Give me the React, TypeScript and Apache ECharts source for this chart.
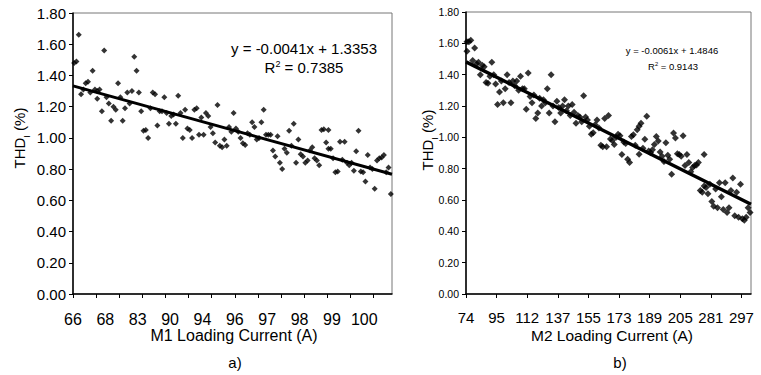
import React, { useEffect, useRef } from 'react';
import * as echarts from 'echarts';

// ---------- data ----------
const Y_MIN = 0;
const Y_MAX = 1.8;
const Y_STEP = 0.2;

// Chart a) : M1
const M1_LABELS = ['66', '68', '83', '90', '94', '96', '97', '98', '99', '100'];
const M1_COUNT = 138;
const M1_LABEL_STEP = 14;
const M1_TICK_STEP = 10;
const M1_SLOPE = -0.0041;
const M1_INTERCEPT = 1.3353;
const M1_EQ = 'y = -0.0041x + 1.3353';
const M1_R2 = '0.7385';
// [sample index, THD_I %]
const M1_POINTS: [number, number][] = [
  [0, 1.48], [1, 1.49], [2, 1.66], [3, 1.28], [4, 1.31], [5, 1.35], [6, 1.36], [7, 1.29], [8, 1.43], [9, 1.31],
  [10, 1.30], [10, 1.25], [11, 1.31], [12, 1.17], [13, 1.56], [14, 1.26], [15, 1.22], [16, 1.11], [17, 1.20], [18, 1.18],
  [19, 1.35], [20, 1.26], [21, 1.11], [22, 1.19], [23, 1.29], [24, 1.22], [25, 1.30], [26, 1.52], [27, 1.43], [28, 1.29],
  [29, 1.17], [30, 1.045], [31, 1.05], [32, 1.00], [33, 1.19], [34, 1.29], [35, 1.28], [36, 1.08], [37, 1.17], [38, 1.17],
  [39, 1.26], [40, 1.16], [41, 1.09], [42, 1.14], [43, 1.15], [44, 1.09], [45, 1.27], [46, 1.16], [47, 1.00], [48, 1.18],
  [49, 1.06], [50, 1.05], [51, 1.00], [52, 1.18], [53, 1.19], [54, 1.02], [55, 1.13], [56, 1.02], [57, 1.16], [58, 1.14],
  [59, 1.07], [60, 1.03], [61, 0.97], [62, 1.21], [63, 0.95], [64, 0.94], [65, 0.99], [66, 0.95], [67, 1.07], [68, 1.04],
  [69, 1.16], [70, 1.06], [71, 1.04], [72, 1.00], [73, 0.965], [74, 0.955], [75, 1.03], [76, 1.02], [77, 1.10], [78, 1.07],
  [79, 0.99], [80, 1.00], [81, 1.10], [82, 1.18], [83, 1.02], [84, 1.02], [85, 1.02], [86, 0.92], [87, 0.88], [88, 1.01],
  [89, 0.84], [90, 0.80], [91, 0.93], [92, 0.905], [93, 1.045], [94, 0.95], [95, 1.09], [96, 0.84], [97, 0.99], [98, 0.895],
  [99, 0.88], [100, 0.84], [101, 0.855], [102, 0.92], [103, 0.94], [104, 0.87], [105, 0.855], [106, 0.825], [107, 1.05], [108, 1.055],
  [109, 0.97], [110, 0.93], [110, 1.05], [111, 0.93], [112, 0.87], [113, 0.78], [114, 0.785], [115, 0.975], [116, 0.86], [117, 0.975],
  [118, 0.84], [119, 0.825], [120, 0.84], [121, 0.79], [122, 0.915], [123, 1.045], [124, 0.785], [125, 0.78], [126, 0.72], [127, 0.89],
  [128, 0.81], [129, 0.80], [130, 0.675], [131, 0.855], [132, 0.87], [133, 0.875], [134, 0.89], [135, 0.78], [136, 0.81], [137, 0.64],
];

// Chart b) : M2
const M2_LABELS = ['74', '95', '112', '137', '155', '173', '189', '205', '281', '297'];
const M2_COUNT = 149;
const M2_LABEL_STEP = 16;
const M2_TICK_STEP = 16;
const M2_SLOPE = -0.0061;
const M2_INTERCEPT = 1.4846;
const M2_EQ = 'y = -0.0061x + 1.4846';
const M2_R2 = '0.9143';
const M2_POINTS: [number, number][] = [
  [0, 1.55], [0, 1.61], [1, 1.61], [2, 1.62], [3, 1.49], [4, 1.57], [5, 1.47], [6, 1.48], [7, 1.40], [8, 1.46],
  [9, 1.45], [10, 1.35], [11, 1.345], [12, 1.39], [13, 1.48], [14, 1.40], [15, 1.34], [16, 1.21], [17, 1.29], [18, 1.36],
  [19, 1.22], [20, 1.31], [21, 1.40], [22, 1.35], [23, 1.22], [24, 1.36], [25, 1.33], [26, 1.36], [27, 1.30], [28, 1.39],
  [29, 1.31], [30, 1.31], [31, 1.18], [32, 1.41], [33, 1.26], [34, 1.22], [35, 1.27], [36, 1.12], [37, 1.155], [38, 1.25],
  [39, 1.20], [40, 1.24], [41, 1.22], [42, 1.31], [43, 1.155], [44, 1.40], [45, 1.20], [46, 1.10], [47, 1.23], [48, 1.19],
  [49, 1.155], [50, 1.20], [51, 1.24], [52, 1.17], [53, 1.20], [54, 1.14], [55, 1.21], [56, 1.16], [57, 1.09], [58, 1.14],
  [59, 1.13], [60, 1.10], [61, 1.265], [62, 1.13], [63, 1.11], [64, 1.07], [65, 1.02], [66, 1.03], [67, 1.08], [68, 1.11],
  [69, 1.06], [70, 0.95], [71, 0.94], [72, 1.12], [73, 0.94], [74, 1.14], [75, 0.99], [76, 0.98], [77, 0.955], [78, 1.00],
  [79, 1.02], [80, 1.01], [81, 0.89], [82, 0.97], [83, 0.96], [84, 0.86], [85, 0.84], [86, 1.006], [87, 1.017], [88, 0.95],
  [89, 1.048], [90, 1.07], [90, 0.892], [91, 1.09], [92, 0.93], [93, 0.988], [94, 1.134], [95, 0.913], [96, 0.902], [97, 0.92],
  [98, 0.955], [99, 1.006], [100, 0.976], [101, 0.906], [102, 0.88], [103, 0.845], [104, 0.965], [105, 0.885], [106, 0.86], [107, 0.765],
  [108, 1.027], [109, 0.996], [110, 0.896], [111, 0.89], [112, 0.88], [113, 1.01], [114, 0.82], [115, 0.89], [116, 0.84], [117, 0.78],
  [118, 0.808], [119, 0.82], [120, 0.823], [121, 0.84], [122, 0.66], [123, 0.65], [124, 0.89], [124, 0.69], [125, 0.68], [126, 0.64],
  [127, 0.70], [128, 0.59], [129, 0.56], [130, 0.67], [131, 0.55], [132, 0.71], [133, 0.62], [134, 0.54], [135, 0.71], [136, 0.52],
  [137, 0.55], [138, 0.66], [139, 0.74], [140, 0.50], [141, 0.65], [142, 0.49], [143, 0.70], [144, 0.48], [145, 0.47], [146, 0.49],
  [147, 0.55], [148, 0.52],
];

// ---------- chart ----------
const FONT = '"Liberation Sans", Arial, sans-serif';

function xAxisFor(gridIndex: number, count: number, labels: string[], labelStep: number, tickStep: number, fontSize: number, margin: number) {
  const labelValues = labels.map((_, k) => k * labelStep);
  const tickValues: number[] = [];
  for (let v = 0; v <= count; v += tickStep) tickValues.push(v);
  return {
    type: 'value',
    gridIndex,
    min: 0,
    max: count,
    axisLine: { show: true, onZero: false, lineStyle: { color: '#000', width: 1.5 } },
    axisTick: { show: true, customValues: tickValues, length: 4, inside: false, lineStyle: { color: '#000', width: 1 } },
    axisLabel: {
      customValues: labelValues,
      formatter: (v: number) => labels[Math.round(v / labelStep)] ?? '',
      color: '#000',
      fontSize,
      fontFamily: FONT,
      margin,
    },
    splitLine: { show: false },
  };
}

function yAxisFor(gridIndex: number, fontSize: number) {
  return {
    type: 'value',
    gridIndex,
    min: Y_MIN,
    max: Y_MAX,
    interval: Y_STEP,
    axisLine: { show: true, onZero: false, lineStyle: { color: '#000', width: 1.5 } },
    axisTick: { show: true, length: 4, lineStyle: { color: '#000', width: 1 } },
    axisLabel: { formatter: (v: number) => v.toFixed(2), color: '#000', fontSize, fontFamily: FONT, margin: 7 },
    splitLine: { show: false },
  };
}

function trend(count: number, slope: number, intercept: number) {
  // Excel trendline: x = sample number (1-based), drawn across the plot area
  return [0, count].map((p) => [p, slope * (p + 0.5) + intercept]);
}

function yTitle(x: number, y: number, size: number) {
  return {
    type: 'text',
    x,
    y,
    rotation: Math.PI / 2,
    style: {
      text: '{a|THD}{b|I}{a| (%)}',
      align: 'center',
      verticalAlign: 'middle',
      rich: {
        a: { fontSize: size, fontFamily: FONT, fill: '#000', lineHeight: size + 4 },
        b: { fontSize: size * 0.62, fontFamily: FONT, fill: '#000', verticalAlign: 'bottom', padding: [0, 0, -3, 0] },
      },
    },
  };
}

function textAt(text: string, x: number, y: number, size: number) {
  return {
    type: 'text',
    x,
    y,
    style: { text, fontSize: size, fontFamily: FONT, fill: '#000', align: 'center', verticalAlign: 'middle' },
  };
}

function r2Text(value: string, x: number, y: number, size: number) {
  return {
    type: 'text',
    x,
    y,
    style: {
      text: '{a|R}{s|2}{a| = ' + value + '}',
      align: 'center',
      verticalAlign: 'middle',
      rich: {
        a: { fontSize: size, fontFamily: FONT, fill: '#000' },
        s: { fontSize: size * 0.6, fontFamily: FONT, fill: '#000', verticalAlign: 'top', padding: [0, 0, 4, 0] },
      },
    },
  };
}

export default function App() {
  const ref = useRef<HTMLDivElement>(null);
  useEffect(() => {
    if (!ref.current) return;
    const chart = echarts.init(ref.current, null, { renderer: 'svg' });
    const option = {
      animation: false,
      backgroundColor: '#fff',
      grid: [
        { left: 73, top: 13, width: 319, height: 281, show: true, borderColor: '#777', borderWidth: 1, containLabel: false },
        { left: 466, top: 12, width: 285, height: 282, show: true, borderColor: '#777', borderWidth: 1, containLabel: false },
      ],
      xAxis: [
        xAxisFor(0, M1_COUNT, M1_LABELS, M1_LABEL_STEP, M1_TICK_STEP, 16, 17),
        xAxisFor(1, M2_COUNT, M2_LABELS, M2_LABEL_STEP, M2_TICK_STEP, 15, 16),
      ],
      yAxis: [yAxisFor(0, 15), yAxisFor(1, 10.5)],
      series: [
        {
          type: 'scatter',
          xAxisIndex: 0,
          yAxisIndex: 0,
          symbol: 'diamond',
          symbolSize: 6,
          itemStyle: { color: '#000' },
          data: M1_POINTS.map(([i, v]) => [i + 0.5, v]),
        },
        {
          type: 'line',
          xAxisIndex: 0,
          yAxisIndex: 0,
          showSymbol: false,
          symbol: 'none',
          lineStyle: { color: '#000', width: 3 },
          data: trend(M1_COUNT, M1_SLOPE, M1_INTERCEPT),
          z: 3,
        },
        {
          type: 'scatter',
          xAxisIndex: 1,
          yAxisIndex: 1,
          symbol: 'diamond',
          symbolSize: 7,
          itemStyle: { color: '#000' },
          data: M2_POINTS.map(([i, v]) => [i + 0.5, v]),
        },
        {
          type: 'line',
          xAxisIndex: 1,
          yAxisIndex: 1,
          showSymbol: false,
          symbol: 'none',
          lineStyle: { color: '#000', width: 3.5 },
          data: trend(M2_COUNT, M2_SLOPE, M2_INTERCEPT),
          z: 3,
        },
      ],
      graphic: [
        yTitle(19, 138, 15),
        yTitle(427, 140, 15),
        textAt(M1_EQ, 304, 48, 15),
        r2Text(M1_R2, 304, 67, 15),
        textAt(M2_EQ, 672, 50, 9.5),
        r2Text(M2_R2, 673, 66, 9.5),
        textAt('M1 Loading Current (A)', 234, 335, 16),
        textAt('M2 Loading Current (A)', 612, 335, 15.5),
        textAt('a)', 235, 362, 15),
        textAt('b)', 620, 362, 15),
      ],
    };
    chart.setOption(option as any);
    return () => chart.dispose();
  }, []);
  return <div ref={ref} style={{ position: 'fixed', left: 0, top: 0, width: 761, height: 375 }} />;
}
